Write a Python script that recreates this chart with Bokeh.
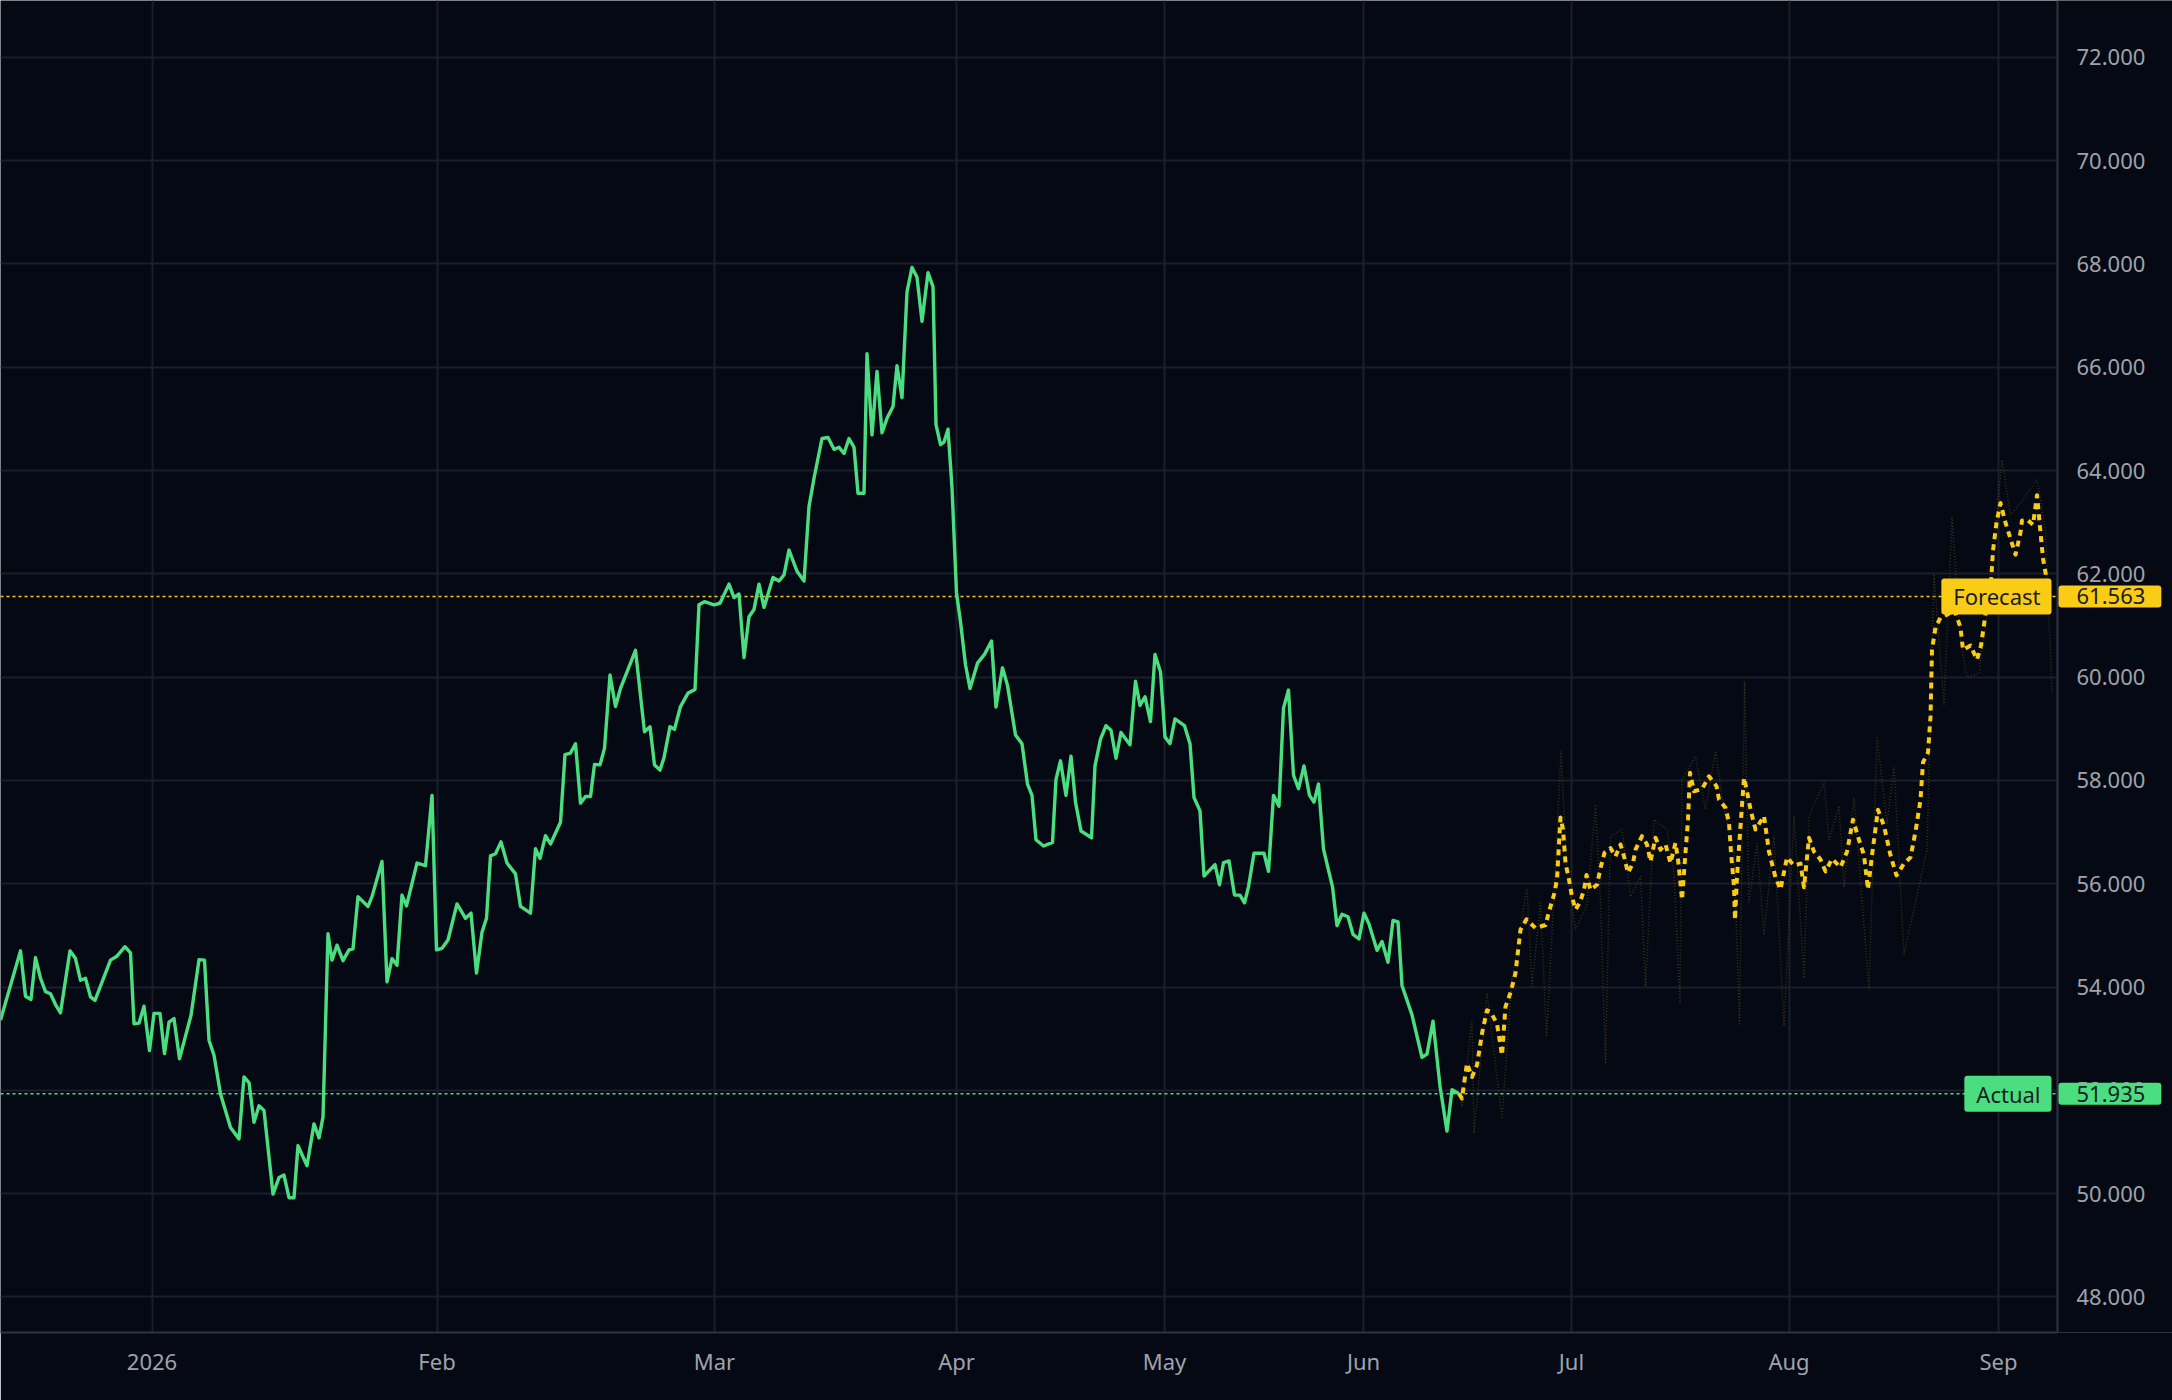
from bokeh.plotting import figure
from bokeh.models import Range1d, FixedTicker, NumeralTickFormatter, Span, Label, BoxAnnotation
from bokeh.embed import file_html
from bokeh.resources import INLINE

# ---- data (x = bar index on the chart's time scale) ----
ACTUAL_X = [0.0, 4.0, 5.0, 6.1, 7.0, 8.0, 9.0, 10.0, 11.0, 12.0, 13.9, 15.0, 16.0, 17.0, 18.0, 18.9,
            22.0, 23.2, 24.9, 26.0, 26.7, 27.7, 28.7, 29.8, 30.7, 31.9, 32.8, 33.7, 34.7, 35.8, 38.1,
            39.7, 40.8, 41.7, 42.7, 44.0, 46.0, 47.7, 48.7, 49.7, 50.7, 51.7, 52.7, 54.5, 55.7, 56.7,
            57.7, 58.7, 59.5, 61.3, 62.7, 63.7, 64.5, 65.5, 66.3, 67.3, 68.5, 69.7, 70.5, 71.5, 73.5,
            74.3, 76.3, 77.3, 78.3, 79.3, 80.3, 81.2, 83.3, 85.0, 86.3, 87.2, 88.3, 89.5, 91.3, 93.0,
            94.1, 95.2, 96.3, 97.2, 98.0, 99.0, 100.1, 101.3, 103.0, 104.0, 106.0, 107.0, 107.9, 109.0,
            110.0, 112.0, 112.9, 114.0, 115.0, 116.0, 117.0, 118.0, 118.8, 119.9, 120.8, 121.9, 123.0,
            124.0, 127.0, 128.8, 129.9, 130.8, 131.9, 132.7, 133.9, 134.8, 136.0, 137.5, 138.9, 139.7,
            140.8, 142.7, 143.9, 145.7, 146.7, 147.7, 148.7, 149.7, 150.7, 151.7, 152.7, 154.5, 155.7,
            156.7, 157.7, 159.3, 160.7, 161.7, 162.7, 164.3, 165.5, 166.7, 167.7, 168.7, 169.7, 170.7,
            171.5, 172.7, 173.3, 174.3, 175.3, 176.3, 177.3, 178.5, 179.3, 180.3, 181.3, 182.3, 183.3,
            184.3, 185.5, 186.5, 187.1, 188.0, 188.7, 189.5, 190.3, 191.2, 192.0, 193.0, 193.9, 195.4,
            196.8, 198.2, 199.1, 200.4, 201.4, 203.0, 204.3, 205.4, 206.3, 207.1, 208.6, 210.4, 211.1,
            212.0, 213.1, 214.1, 215.0, 216.1, 218.2, 218.9, 220.0, 221.1, 222.1, 223.1, 224.1, 225.9,
            227.0, 227.9, 228.9, 230.0, 230.9, 232.0, 232.9, 233.9, 234.9, 236.8, 237.9, 238.7, 239.9,
            240.7, 242.9, 243.8, 244.6, 245.7, 246.8, 247.9, 248.8, 249.6, 250.7, 252.7, 253.6, 254.6,
            255.7, 256.6, 257.6, 258.6, 259.6, 260.7, 261.8, 262.7, 263.6, 264.6, 266.4, 267.3, 268.3,
            269.5, 270.5, 271.7, 272.7, 273.7, 275.3, 276.3, 277.5, 278.5, 279.5, 280.3, 282.3, 284.3,
            285.3, 286.5, 287.9, 289.3, 290.3, 291.7]
ACTUAL_Y = [53.36, 54.70, 53.82, 53.76, 54.57, 54.17, 53.91, 53.87, 53.66, 53.50, 54.70, 54.55, 54.13,
            54.17, 53.81, 53.74, 54.52, 54.59, 54.78, 54.66, 53.29, 53.30, 53.63, 52.77, 53.49, 53.49,
            52.71, 53.32, 53.39, 52.61, 53.45, 54.53, 54.52, 52.97, 52.68, 51.93, 51.28, 51.06, 52.26,
            52.15, 51.38, 51.70, 51.61, 49.99, 50.31, 50.36, 49.92, 49.92, 50.93, 50.54, 51.35, 51.08,
            51.48, 55.03, 54.52, 54.81, 54.51, 54.72, 54.74, 55.75, 55.56, 55.75, 56.43, 54.10, 54.55,
            54.42, 55.78, 55.57, 56.40, 56.35, 57.71, 54.72, 54.75, 54.91, 55.61, 55.33, 55.43, 54.27,
            55.06, 55.33, 56.54, 56.58, 56.81, 56.40, 56.19, 55.56, 55.43, 56.68, 56.49, 56.93, 56.77,
            57.19, 58.50, 58.53, 58.71, 57.56, 57.69, 57.69, 58.31, 58.30, 58.62, 60.04, 59.43, 59.78,
            60.52, 58.94, 59.04, 58.30, 58.20, 58.44, 59.04, 58.99, 59.43, 59.69, 59.76, 61.40, 61.46,
            61.40, 61.43, 61.80, 61.54, 61.61, 60.38, 61.17, 61.31, 61.80, 61.35, 61.93, 61.86, 61.98,
            62.46, 62.05, 61.86, 63.30, 63.85, 64.62, 64.64, 64.41, 64.45, 64.33, 64.62, 64.45, 63.56,
            63.56, 66.26, 64.69, 65.92, 64.73, 65.01, 65.24, 66.03, 65.41, 67.46, 67.93, 67.74, 66.89,
            67.83, 67.56, 64.89, 64.50, 64.55, 64.80, 63.67, 61.63, 61.07, 60.24, 59.78, 60.27, 60.44,
            60.70, 59.42, 60.18, 59.84, 58.88, 58.71, 57.93, 57.71, 56.85, 56.73, 56.80, 58.02, 58.38,
            57.71, 58.47, 57.58, 57.02, 56.89, 58.28, 58.80, 59.06, 58.97, 58.43, 58.93, 58.69, 59.92,
            59.45, 59.62, 59.14, 60.44, 60.10, 58.84, 58.71, 59.19, 59.06, 58.71, 57.67, 57.41, 56.15,
            56.37, 55.98, 56.41, 56.44, 55.78, 55.78, 55.63, 55.94, 56.59, 56.59, 56.24, 57.71, 57.50,
            59.40, 59.75, 58.10, 57.84, 58.28, 57.71, 57.58, 57.93, 56.67, 55.94, 55.19, 55.41, 55.36,
            55.02, 54.93, 55.43, 55.22, 54.71, 54.88, 54.48, 55.29, 55.26, 54.03, 53.46, 52.64, 52.70,
            53.34, 52.08, 51.21, 52.01, 51.935]

FORECAST_X = [291.7, 292.3, 292.8, 293.3, 294.3, 295.3, 296.3, 297.3, 298.0, 299.3, 300.3, 301.0, 302.0,
              303.0, 304.0, 305.2, 307.0, 309.0, 309.7, 310.7, 311.3, 312.0, 312.5, 313.0, 313.7, 314.3,
              315.0, 315.9, 316.7, 317.2, 318.0, 319.3, 320.0, 320.8, 322.0, 323.0, 324.0, 324.7, 325.5,
              326.5, 327.0, 328.3, 329.3, 330.0, 331.0, 332.0, 333.0, 334.0, 335.0, 335.5, 336.0, 336.3,
              337.0, 337.5, 337.9, 338.7, 340.3, 341.7, 343.2, 343.7, 345.0, 345.7, 346.1, 346.7, 346.9,
              347.3, 348.0, 348.7, 349.3, 350.0, 351.0, 352.7, 353.7, 355.0, 356.0, 357.3, 358.7, 360.0,
              360.7, 361.7, 362.7, 364.0, 365.0, 366.3, 368.0, 369.3, 370.5, 371.7, 372.7, 373.5, 374.3,
              375.5, 376.7, 378.0, 379.2, 380.7, 382.0, 383.0, 384.0, 384.5, 385.5, 386.0, 386.3, 387.0,
              388.0, 389.5, 390.8, 392.0, 392.5, 394.0, 395.3, 396.1, 397.0, 398.0, 398.5, 399.2, 400.0,
              401.0, 402.0, 403.0, 404.0, 404.3, 405.3, 406.5, 407.3, 408.0, 408.5, 409.2, 409.8]
FORECAST_Y = [51.935, 51.84, 52.19, 52.52, 52.26, 52.49, 53.10, 53.55, 53.52, 53.29, 52.68, 53.62, 53.89,
              54.27, 55.11, 55.31, 55.14, 55.20, 55.46, 55.79, 56.08, 57.28, 57.05, 56.40, 56.08, 55.75,
              55.50, 55.64, 55.88, 56.17, 55.88, 55.98, 56.30, 56.60, 56.69, 56.53, 56.76, 56.53, 56.21,
              56.40, 56.66, 56.92, 56.76, 56.43, 56.89, 56.66, 56.76, 56.40, 56.79, 56.47, 56.01, 55.69,
              56.60, 57.24, 58.15, 57.79, 57.83, 58.08, 57.89, 57.63, 57.47, 57.18, 56.60, 55.95, 55.30,
              56.14, 57.11, 58.05, 57.79, 57.44, 57.05, 57.31, 56.62, 56.12, 55.89, 56.51, 56.35, 56.39,
              55.93, 56.89, 56.62, 56.47, 56.24, 56.48, 56.32, 56.62, 57.24, 56.85, 56.55, 55.89, 56.55,
              57.43, 57.12, 56.55, 56.16, 56.39, 56.51, 57.01, 57.62, 58.35, 58.54, 59.23, 60.53, 60.96,
              61.15, 61.22, 61.30, 60.96, 60.53, 60.61, 60.34, 60.61, 61.22, 61.68, 62.45, 62.99, 63.37,
              62.99, 62.68, 62.37, 62.80, 63.03, 63.05, 62.95, 63.52, 62.80, 62.30, 61.91, 61.563]

BAND_X = [291.7, 292.3, 294.3, 294.7, 297.3, 300.3, 302.3, 305.3, 306.3, 308.0, 309.2, 310.7, 312.1, 313.3,
          315.0, 317.3, 319.0, 320.0, 321.0, 322.0, 324.3, 326.0, 328.0, 329.0, 330.7, 333.3, 334.7, 335.9,
          336.3, 339.0, 341.0, 343.0, 344.7, 346.7, 347.8, 348.8, 349.7, 351.3, 352.7, 354.7, 356.7, 358.7,
          360.7, 361.7, 364.7, 365.7, 367.7, 368.7, 370.7, 373.7, 375.3, 377.3, 378.7, 380.7, 385.3, 386.7,
          388.7, 390.3, 392.0, 393.3, 395.7, 397.3, 400.3, 402.0, 404.0, 407.3, 409.0, 410.3]
BAND_Y = [51.935, 51.68, 53.36, 51.16, 53.88, 51.45, 54.14, 55.92, 54.01, 55.66, 53.04, 55.75, 58.57, 56.27,
          55.11, 55.59, 57.53, 55.69, 52.52, 56.92, 57.05, 55.75, 56.14, 54.01, 57.24, 57.05, 56.21, 53.68,
          58.02, 58.47, 57.44, 58.57, 57.44, 56.60, 53.26, 59.92, 55.63, 56.78, 55.01, 56.93, 53.25, 57.31,
          54.17, 57.31, 57.96, 56.85, 57.50, 55.93, 57.66, 53.94, 58.85, 57.16, 58.27, 54.63, 56.66, 61.99,
          59.46, 63.10, 60.69, 60.00, 60.07, 61.15, 64.21, 63.14, 63.37, 63.83, 62.83, 59.69]

MONTH_POS = [30.3, 87.3, 142.8, 191.2, 232.8, 272.6, 314.2, 357.7, 399.6]
MONTH_LABELS = ["2026", "Feb", "Mar", "Apr", "May", "Jun", "Jul", "Aug", "Sep"]
PRICE_TICKS = [48, 50, 52, 54, 56, 58, 60, 62, 64, 66, 68, 70, 72]
LAST_ACTUAL = 51.935
LAST_FORECAST = 61.563

# ---- style ----
BG = "#040914"
GRID = "#1a1f2c"
AXIS = "#2e3442"
TXT = "#a0a3ac"
GREEN = "#4ade80"
YELLOW = "#facc15"
FONT = "Noto Sans"

W, H = 2172, 1400
BOTTOM = 68
X_START, X_PANE_END, X_END = 0.0, 411.4, 434.4   # price pane ends at X_PANE_END; price scale beyond

p = figure(width=W, height=H,
           x_range=Range1d(X_START, X_END), y_range=Range1d(47.311, 73.100),
           y_axis_location="right", output_backend="svg", toolbar_location=None,
           min_border_left=0, min_border_top=0, min_border_right=0, min_border_bottom=BOTTOM,
           background_fill_color=BG, border_fill_color=BG, outline_line_color=None)

p.xaxis.ticker = FixedTicker(ticks=MONTH_POS)
p.xaxis.major_label_overrides = {pos: lab for pos, lab in zip(MONTH_POS, MONTH_LABELS)}
p.xaxis.bounds = (X_START, X_PANE_END)
p.yaxis.ticker = FixedTicker(ticks=PRICE_TICKS)
p.yaxis.formatter = NumeralTickFormatter(format="0.000")

for ax in (p.xaxis, p.yaxis):
    ax.major_tick_line_color = None
    ax.minor_tick_line_color = None
    ax.major_tick_out = 0
    ax.major_tick_in = 0
    ax.minor_tick_out = 0
    ax.minor_tick_in = 0
    ax.axis_line_color = AXIS
    ax.axis_line_width = 2
    ax.major_label_text_color = TXT
    ax.major_label_text_font = FONT
    ax.major_label_text_font_size = "22px"
p.xaxis.major_label_standoff = 13
p.yaxis.axis_line_color = None
p.yaxis.major_label_standoff = -96   # price labels sit in the price-scale strip

p.xgrid.grid_line_color = GRID
p.xgrid.grid_line_width = 2
p.ygrid.grid_line_color = GRID
p.ygrid.grid_line_width = 2

p.add_layout(Span(location=LAST_FORECAST, dimension="width", line_color=YELLOW,
                  line_dash="3 3", line_width=1.5, level="underlay"))
p.add_layout(Span(location=LAST_ACTUAL, dimension="width", line_color=GREEN,
                  line_dash="3 3", line_width=1.5, level="underlay"))
# price-scale strip: plain background, separated by a border line
p.add_layout(BoxAnnotation(left=X_PANE_END, fill_color=BG, fill_alpha=1.0, line_color=None,
                           level="underlay"))
p.add_layout(Span(location=X_PANE_END, dimension="height", line_color=AXIS, line_width=2,
                  level="underlay"))

p.line(BAND_X, BAND_Y, line_color="#5a5018", line_width=1.5, line_dash="1 2", line_alpha=0.6)
p.line(ACTUAL_X, ACTUAL_Y, line_color=GREEN, line_width=3.4, line_join="round")
p.line(FORECAST_X, FORECAST_Y, line_color=YELLOW, line_width=4, line_dash="6 5", line_join="round")

for name, val, col in (("Forecast", LAST_FORECAST, YELLOW), ("Actual", LAST_ACTUAL, GREEN)):
    p.add_layout(Label(x=X_PANE_END, y=val, text=name, text_align="right", text_baseline="middle",
                       x_offset=-6, text_font=FONT, text_font_size="22px", text_color="#1a1d24",
                       background_fill_color=col, border_radius=3, level="overlay",
                       padding=dict(left=12, right=11, top=3, bottom=3)))
    p.add_layout(Label(x=X_PANE_END, y=val, text=f"{val:.3f}", text_align="left",
                       text_baseline="middle", x_offset=1,
                       text_font=FONT, text_font_size="22px", text_color="#1a1d24",
                       background_fill_color=col, border_radius=3, level="overlay",
                       padding=dict(left=18, right=16, top=3, bottom=3)))

open("out.html", "w").write(file_html(p, INLINE))
